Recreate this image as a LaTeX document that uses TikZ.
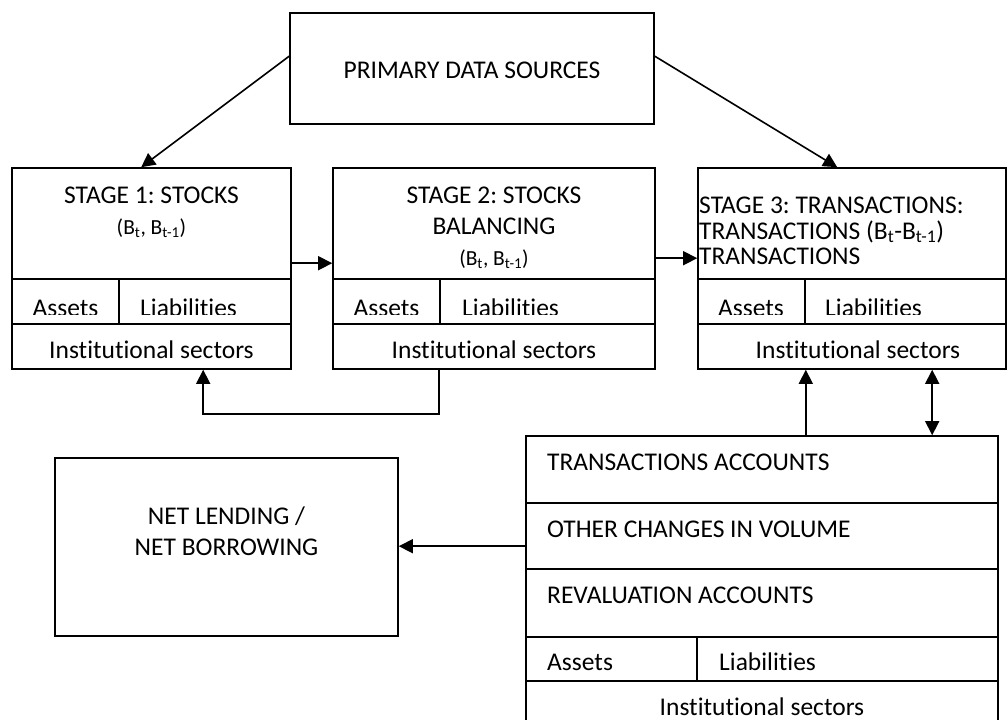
\documentclass[tikz,border=0pt]{standalone}
\usepackage{fontspec}
\setmainfont{Carlito}[Ligatures=NoCommon]
\usetikzlibrary{arrows.meta,fit,calc}
\frenchspacing
\tikzset{
  box/.style={draw, line width=1.6pt, inner sep=0pt},
  lbl/.style={anchor=base, inner sep=0pt, font=\fontsize{25.5}{30}\selectfont},
  lbll/.style={anchor=base west, inner sep=0pt, font=\fontsize{25.5}{30}\selectfont},
  smalllbl/.style={anchor=base, inner sep=0pt, font=\fontsize{21.5}{26}\selectfont},
  conn/.style={line width=1.6pt},
  arr/.style={line width=1.6pt, -{Triangle[length=14pt,width=14pt]}},
  dblarr/.style={line width=1.6pt, {Triangle[length=14pt,width=14pt]}-{Triangle[length=14pt,width=14pt]}}
}
\begin{document}
\frenchspacing
\begin{tikzpicture}[x=1pt,y=-1pt]
\useasboundingbox (0,0) rectangle (1007,720);
\clip (0,0) rectangle (1007,720);
% top box
\node[box, fit={(290,13) (654,124)}] (top) {};
\node[lbl] (toptxt) at (472,78) {PRIMARY DATA SOURCES};
% stage 1
\node[box, fit={(12,168) (291,279)}] (s1top) {};
\node[box, fit={(12,279) (119,324)}] (s1a) {};
\node[box, fit={(119,279) (291,324)}] (s1l) {};
\node[box, fit={(12,324) (291,369)}] (s1i) {};
\node[lbl] (s1t1) at (151.5,203) {STAGE 1: STOCKS};
\node[smalllbl] (s1t2) at (151.5,234) {(B\textsubscript{t}, B\textsubscript{t-1})};
\node[lbl] (s1it) at (151.5,358) {Institutional sectors};
% stage 2
\node[box, fit={(333,168) (655,279)}] (s2top) {};
\node[box, fit={(333,279) (440,324)}] (s2a) {};
\node[box, fit={(440,279) (655,324)}] (s2l) {};
\node[box, fit={(333,324) (655,369)}] (s2i) {};
\node[lbl] (s2t1) at (494,203) {STAGE 2: STOCKS};
\node[lbl] (s2t2) at (494,234) {BALANCING};
\node[smalllbl] (s2t3) at (494,265) {(B\textsubscript{t}, B\textsubscript{t-1})};
\node[lbl] (s2it) at (494,358) {Institutional sectors};
% stage 3
\node[box, fit={(698,168) (1006,279)}] (s3top) {};
\node[box, fit={(698,279) (805,324)}] (s3a) {};
\node[box, fit={(805,279) (1006,324)}] (s3l) {};
\node[box, fit={(698,324) (1006,369)}] (s3i) {};
\node[lbll] (s3t1) at (699,213) {STAGE 3: TRANSACTIONS:};
\node[lbll] (s3t2) at (699,239) {TRANSACTIONS (B\textsubscript{t}-B\textsubscript{t-1})};
\node[lbll] (s3t3) at (699,264) {TRANSACTIONS};
\node[lbl] (s3it) at (858,358) {Institutional sectors};
% clipped asset / liability labels
\begin{scope}
\clip (0,279) rectangle (1007,314);
\node[lbl] (s1at) at (65.5,316) {Assets};
\node[lbll] (s1lt) at (140,316) {Liabilities};
\node[lbl] (s2at) at (386.5,316) {Assets};
\node[lbll] (s2lt) at (462,316) {Liabilities};
\node[lbl] (s3at) at (751,316) {Assets};
\node[lbll] (s3lt) at (825,316) {Liabilities};
\end{scope}
% bottom box
\node[box, fit={(526,436) (998,503)}] (b1) {};
\node[box, fit={(526,503) (998,569)}] (b2) {};
\node[box, fit={(526,569) (998,637)}] (b3) {};
\node[box, fit={(526,637) (697,681)}] (b4a) {};
\node[box, fit={(697,637) (998,681)}] (b4l) {};
\node[box, fit={(526,681) (998,760)}] (b5) {};
\node[lbll] (b1t) at (547,470) {TRANSACTIONS ACCOUNTS};
\node[lbll] (b2t) at (547,537) {OTHER CHANGES IN VOLUME};
\node[lbll] (b3t) at (547,603) {REVALUATION ACCOUNTS};
\node[lbll] (b4at) at (547,670) {Assets};
\node[lbll] (b4lt) at (719,670) {Liabilities};
\node[lbl] (b5t) at (762,715) {Institutional sectors};
% net lending box
\node[box, fit={(55,458) (398,636)}] (nl) {};
\node[lbl] (nlt1) at (226.5,524) {NET LENDING /};
\node[lbl] (nlt2) at (226.5,555) {NET BORROWING};
% connectors
\draw[arr] ([yshift=-44pt]top.north west) -- ([xshift=130pt]s1top.north west);
\draw[arr] ([yshift=-44pt]top.north east) -- ([xshift=140pt]s3top.north west);
\draw[arr] ([yshift=-96pt]s1top.north east) -- ([yshift=-96pt]s2top.north west);
\draw[arr] ([yshift=-91pt]s2top.north east) -- ([yshift=-91pt]s3top.north west);
\draw[arr] ([xshift=107pt]s2i.south west) -- ++(0,44) -| ([xshift=192pt]s1i.south west);
\draw[arr] (s3a.east |- b1.north) -- (s3a.east |- s3i.south);
\coordinate (dd) at ([xshift=235pt]s3i.south west);
\draw[dblarr] (dd) -- (dd |- b1.north);
\coordinate (nla) at ([yshift=-44pt]b2.north west);
\draw[arr] (nla) -- (nla -| nl.east);
\end{tikzpicture}
\end{document}
